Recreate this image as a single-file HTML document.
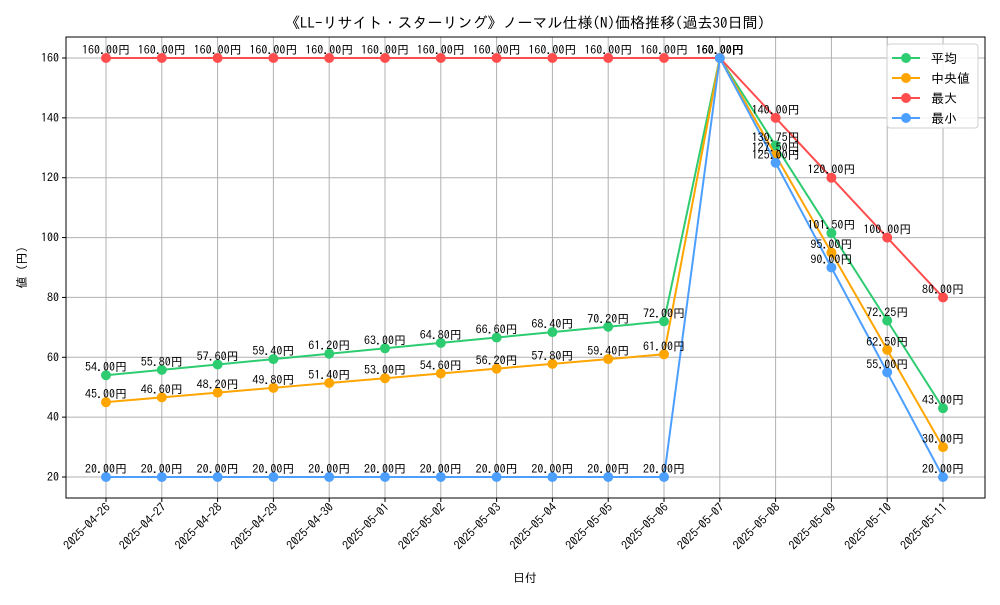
<!DOCTYPE html>
<html><head><meta charset="utf-8"><style>
body{margin:0;background:#fff}
svg{font-family:"IPAGothic","Noto Sans CJK JP","Liberation Sans",sans-serif}
</style></head><body>
<svg id="c" width="1000" height="600"></svg>
<script>
const categories=["2025-04-26","2025-04-27","2025-04-28","2025-04-29","2025-04-30","2025-05-01","2025-05-02","2025-05-03","2025-05-04","2025-05-05","2025-05-06","2025-05-07","2025-05-08","2025-05-09","2025-05-10","2025-05-11"];
const avgValues=[54,55.8,57.6,59.4,61.2,63,64.8,66.6,68.4,70.2,72,160,130.75,101.5,72.25,43];
const medianValues=[45,46.6,48.2,49.8,51.4,53,54.6,56.2,57.8,59.4,61,160,127.5,95,62.5,30];
const maxValues=[160,160,160,160,160,160,160,160,160,160,160,160,140,120,100,80];
const minValues=[20,20,20,20,20,20,20,20,20,20,20,160,125,90,55,20];
const yTicks=[20,40,60,80,100,120,140,160];
const seriesNames=["平均","中央値","最大","最小"];
const colors=["#2ecc71","#ffa500","#ff4d4d","#4d9fff"];
const svg=document.getElementById('c');const NS="http://www.w3.org/2000/svg";
const L=66,R=985,T=37,B=498;
const x=i=>106+i*(943-106)/(categories.length-1);
const y=v=>477-(v-20)*(477-58)/140;
function el(t,a,p){const e=document.createElementNS(NS,t);for(const k in a)e.setAttribute(k,a[k]);(p||svg).appendChild(e);return e;}
const t=el('text',{x:525,y:28,'text-anchor':'middle','font-size':15});t.textContent="《LL-リサイト・スターリング》ノーマル仕様(N)価格推移(過去30日間)";

const g=el('g',{});
categories.forEach((c,i)=>{el('line',{x1:x(i),x2:x(i),y1:T,y2:B,stroke:'#b0b0b0','stroke-width':1},g);
 el('line',{x1:x(i),x2:x(i),y1:B,y2:B+4,stroke:'#000'});
 const tx=el('text',{x:0,y:0,'font-size':12,'text-anchor':'end',transform:`translate(${x(i)+5},${B+10}) rotate(-45)`});tx.textContent=c;
 });
yTicks.forEach(v=>{el('line',{x1:L,x2:R,y1:y(v),y2:y(v),stroke:'#b0b0b0','stroke-width':1},g);
 el('line',{x1:L-4,x2:L,y1:y(v),y2:y(v),stroke:'#000'});
 const tx=el('text',{x:L-7,y:y(v)+4,'font-size':12,'text-anchor':'end'});tx.textContent=v;
 });
el('rect',{x:L,y:T,width:R-L,height:B-T,fill:'none',stroke:'#000','stroke-width':1});
const xt=el('text',{x:525,y:582,'font-size':12,'text-anchor':'middle'});xt.textContent="日付";
const yt=el('text',{x:0,y:0,'font-size':12,'text-anchor':'middle',transform:`translate(26,${(T+B)/2}) rotate(-90)`});yt.textContent="値 (円)";
const all=[avgValues,medianValues,maxValues,minValues];
const keys=['avg','median','max','min'];
all.forEach((vals,s)=>{const sg=el('g',{});
 el('polyline',{points:vals.map((v,i)=>x(i)+','+y(v)).join(' '),fill:'none',stroke:colors[s],'stroke-width':2},sg);
 vals.forEach((v,i)=>{const c=el('circle',{cx:x(i),cy:y(v),r:5,fill:colors[s]},sg);});});
all.forEach((vals,s)=>{vals.forEach((v,i)=>{const tx=el('text',{x:x(i),y:y(v)-4,'font-size':12,'text-anchor':'middle'});tx.textContent=v.toFixed(2)+"円";
 });});
const lg=el('g',{});
el('rect',{x:887,y:44,width:91,height:84,rx:3,fill:'#fff','fill-opacity':0.85,stroke:'#d0d0d0'},lg);
seriesNames.forEach((n,s)=>{const yy=58+s*20;
 const e=el('g',{},lg);
 el('line',{x1:892,x2:920,y1:yy,y2:yy,stroke:colors[s],'stroke-width':2},e);
 el('circle',{cx:906,cy:yy,r:5,fill:colors[s]},e);
 const tx=el('text',{x:931,y:yy+5,'font-size':13},e);tx.textContent=n;});
</script>
</body></html>
